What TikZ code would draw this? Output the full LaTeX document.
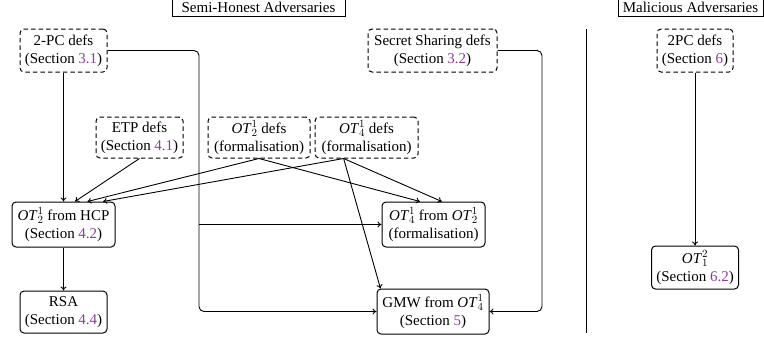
\documentclass[tikz,border=0pt]{standalone}
\usepackage{fontspec}
\setmainfont{Liberation Serif}
\usetikzlibrary{calc,arrows.meta}
\definecolor{secpurple}{RGB}{142,62,154}
\newcommand\OTx[2]{\textit{OT}$_{#1}^{#2}$}
\newcommand\secref[1]{\textcolor{secpurple}{#1}}
\begin{document}
\begin{tikzpicture}[x=1pt,y=-1pt,
  every node/.style={font=\fontsize{15}{18}\selectfont, align=center, inner sep=0pt},
  defbox/.style={draw, dashed, dash pattern=on 4.5pt off 3pt, rounded corners=4pt, line width=1pt},
  resbox/.style={draw, rounded corners=4pt, line width=1pt},
  titlebox/.style={draw, line width=1pt},
  arr/.style={-{To[length=4pt,width=6pt]}, line width=0.9pt},
  conn/.style={line width=1pt}]
\useasboundingbox (0,0) rectangle (764,341);
% titles
\node[titlebox, minimum width=173pt, minimum height=18pt] (semi) at (258.5,7.5) {Semi-Honest Adversaries};
\node[titlebox, minimum width=145pt, minimum height=18pt] (mal) at (690.5,7.5) {Malicious Adversaries};
% definition nodes
\node[defbox, minimum width=87pt, minimum height=43pt] (twopc) at (63.5,50.5) {2-PC defs\\(Section \secref{3.1})};
\node[defbox, minimum width=129pt, minimum height=43pt] (ss) at (432.5,50.5) {Secret Sharing defs\\(Section \secref{3.2})};
\node[defbox, minimum width=87pt, minimum height=41pt] (etp) at (139.5,137.5) {ETP defs\\(Section \secref{4.1})};
\node[defbox, minimum width=102pt, minimum height=41pt] (ot2d) at (259,137.5) {\OTx{2}{1} defs\\(formalisation)};
\node[defbox, minimum width=103pt, minimum height=41pt] (ot4d) at (366.5,137.5) {\OTx{4}{1} defs\\(formalisation)};
\node[defbox, minimum width=76pt, minimum height=43pt] (mpc) at (695,50.5) {2PC defs\\(Section \secref{6})};
% result nodes
\node[resbox, minimum width=103pt, minimum height=45pt] (hcp) at (63.5,224.5) {\OTx{2}{1} from HCP\\(Section \secref{4.2})};
\node[resbox, minimum width=87pt, minimum height=42pt] (rsa) at (63.5,312) {RSA\\(Section \secref{4.4})};
\node[resbox, minimum width=103pt, minimum height=45pt] (ot4f) at (433.5,224.5) {\OTx{4}{1} from \OTx{2}{1}\\(formalisation)};
\node[resbox, minimum width=112pt, minimum height=45pt] (gmw) at (433,311.5) {GMW from \OTx{4}{1}\\(Section \secref{5})};
\node[resbox, minimum width=87pt, minimum height=43pt] (ot12) at (695,267.5) {\OTx{1}{2}\\(Section \secref{6.2})};
% helper coordinates
\coordinate (bus) at (199,0);
\coordinate (bus2) at (542,0);
\coordinate (ot4s) at ($(ot4d.south west)!0.28!(ot4d.south east)$);
\coordinate (divtop) at (586,29);
\coordinate (divbot) at (586,333);
% connectors
\draw[arr] (twopc.south) -- (hcp.north);
\draw[arr] (hcp.south) -- (rsa.north);
\draw[arr] (etp.south) -- ($(hcp.north west)!0.61!(hcp.north east)$);
\draw[arr] (ot2d.south) -- ($(hcp.north west)!0.73!(hcp.north east)$);
\draw[arr] (ot2d.south) -- ($(ot4f.north west)!0.37!(ot4f.north east)$);
\draw[arr] (ot4s) -- ($(hcp.north west)!0.88!(hcp.north east)$);
\draw[arr] (ot4s) -- ($(ot4f.north west)!0.58!(ot4f.north east)$);
\draw[arr] (ot4s) -- ($(gmw.north west)+(4,0)$);
\draw[arr, rounded corners=5pt] (twopc.east) -| (bus |- gmw.west) -- (gmw.west);
\draw[arr] (bus |- ot4f.west) -- (ot4f.west);
\draw[arr, rounded corners=5pt] (ss.east) -| (bus2 |- gmw.east) -- (gmw.east);
\draw[arr] (mpc.south) -- (ot12.north);
\draw[conn] (divtop) -- (divbot);
\end{tikzpicture}
\end{document}
